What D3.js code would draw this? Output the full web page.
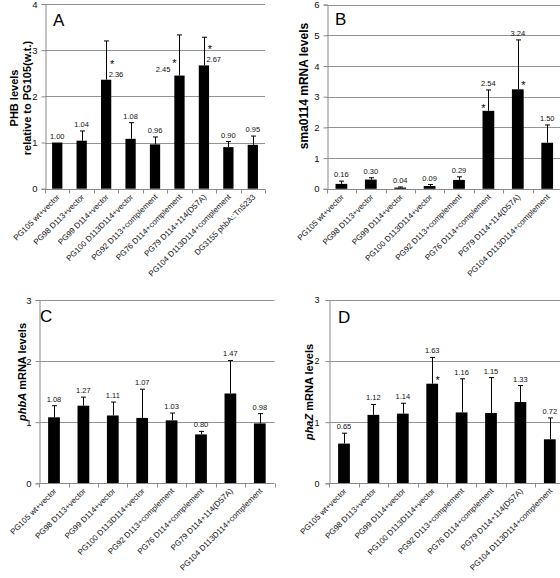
<!DOCTYPE html>
<html><head><meta charset="utf-8">
<script src="https://cdn.jsdelivr.net/npm/d3@7"></script>
<style>body{margin:0;background:#fff}svg{display:block}</style>
</head><body>
<svg id="chart" width="560" height="578"></svg>
<script>
// ---- data ----
const categoriesA = ["PG105 wt+vector","PG98 D113+vector","PG99 D114+vector","PG100 D113D114+vector","PG92 D113+complement","PG76 D114+complement","PG79 D114+114(D57A)","PG104 D113D114+complement","DG3155 phbA::Tn5233"];
const categoriesBCD = ["PG105 wt+vector","PG98 D113+vector","PG99 D114+vector","PG100 D113D114+vector","PG92 D113+complement","PG76 D114+complement","PG79 D114+114(D57A)","PG104 D113D114+complement"];

const valuesA = [1.00,1.04,2.36,1.08,0.96,2.45,2.67,0.90,0.95];
const errorsA = [0.00,0.21,0.84,0.35,0.16,0.88,0.61,0.12,0.19];
const starsA  = [false,false,true,false,false,true,true,false,false];
const ticksA  = [0,1,2,3,4];

const valuesB = [0.16,0.30,0.04,0.09,0.29,2.54,3.24,1.50];
const errorsB = [0.09,0.06,0.02,0.05,0.10,0.68,1.61,0.58];
const starsB  = [false,false,false,false,false,true,true,false];
const ticksB  = [0,1,2,3,4,5,6];

const valuesC = [1.08,1.27,1.11,1.07,1.03,0.80,1.47,0.98];
const errorsC = [0.19,0.14,0.22,0.47,0.12,0.05,0.54,0.16];
const starsC  = [false,false,false,false,false,false,false,false];
const ticksC  = [0,1,2,3];

const valuesD = [0.65,1.12,1.14,1.63,1.16,1.15,1.33,0.72];
const errorsD = [0.17,0.17,0.17,0.43,0.55,0.58,0.27,0.35];
const starsD  = [false,false,false,true,false,false,false,false];
const ticksD  = [0,1,2,3];

// ---- drawing ----
const svg = d3.select("#chart");
const FONT = "'Liberation Sans', Arial, sans-serif";
const fmt = d3.format(".2f");

function drawPanel(p) {
  const g = svg.append("g");
  const yMax = d3.max(p.ticks);
  const y = d3.scaleLinear().domain([0, yMax]).range([p.y0, p.yTop]);
  const x = d3.scaleBand().domain(p.cats).range([p.left, p.left + p.step * p.cats.length])
    .paddingInner(p.pad).paddingOuter(p.pad / 2);
  const right = p.left + p.step * p.cats.length;

  // gridlines
  g.selectAll("line.grid").data(p.ticks.filter(t => t > 0)).join("line")
    .attr("x1", p.left).attr("x2", right)
    .attr("y1", d => Math.round(y(d)) + 0.5).attr("y2", d => Math.round(y(d)) + 0.5)
    .attr("stroke", "#939393").attr("stroke-width", 1);

  // y axis
  const yAxis = d3.axisLeft(y).tickValues(p.ticks).tickSize(4).tickFormat(d3.format("d"));
  const ya = g.append("g").attr("transform", `translate(${Math.round(p.left) + 0.5},0)`).call(yAxis);
  ya.select(".domain").attr("stroke", "#8a8a8a");
  ya.selectAll(".tick line").attr("stroke", "#8a8a8a");
  ya.selectAll(".tick text").attr("font-family", FONT).attr("font-size", p.tickFont)
    .attr("fill", "#111").attr("x", -p.tickGap);

  // bars
  g.selectAll("rect.bar").data(p.values).join("rect")
    .attr("x", (d, i) => x(p.cats[i]))
    .attr("width", x.bandwidth())
    .attr("y", d => y(d))
    .attr("height", d => p.y0 - y(d))
    .attr("fill", "#000");

  // error bars
  p.values.forEach((v, i) => {
    const e = p.errors[i];
    if (e <= 0) return;
    const cx = Math.round(x(p.cats[i]) + x.bandwidth() / 2) + 0.5;
    g.append("line").attr("x1", cx).attr("x2", cx).attr("y1", y(v)).attr("y2", y(v + e))
      .attr("stroke", "#000").attr("stroke-width", 1);
    g.append("line").attr("x1", cx - 2.5).attr("x2", cx + 2.5).attr("y1", y(v + e)).attr("y2", y(v + e))
      .attr("stroke", "#000").attr("stroke-width", 1);
  });

  // x axis
  const xa = g.append("g").attr("transform", `translate(0,${Math.round(p.y0) + 0.5})`);
  xa.append("line").attr("x1", p.left).attr("x2", right).attr("stroke", "#8a8a8a");
  const bounds = d3.range(p.cats.length + 1).map(i => x.step() * i + p.left);
  xa.selectAll("line.t").data(bounds).join("line")
    .attr("x1", d => Math.round(d) + 0.5).attr("x2", d => Math.round(d) + 0.5)
    .attr("y1", 0).attr("y2", 4).attr("stroke", "#8a8a8a");
  xa.selectAll("text").data(p.cats).join("text")
    .attr("transform", d => `translate(${x(d) + x.bandwidth() / 2 + 3},${8}) rotate(-45)`)
    .attr("text-anchor", "end").attr("font-family", FONT).attr("font-size", 8).attr("fill", "#111")
    .text(d => d);

  // value labels & stars
  p.values.forEach((v, i) => {
    const cx = x(p.cats[i]) + x.bandwidth() / 2;
    const capY = y(v + p.errors[i]);
    const topY = y(v);
    const sp = p.special[i] || {};
    let lx = cx, ly = capY - 4, anchor = "middle";
    if (sp.label === "right") { lx = cx + 2.5; ly = topY - 3; anchor = "start"; }
    if (sp.label === "left") { lx = cx - 9; ly = topY - 4; anchor = "end"; }
    g.append("text").attr("x", lx).attr("y", ly).attr("text-anchor", anchor)
      .attr("font-family", FONT).attr("font-size", 7.5).attr("fill", "#111").text(fmt(v));
    if (p.stars[i]) {
      let sx = cx + 6, sy = ly - 9;
      if (sp.star === "rightLabel") { sx = cx + 6; sy = ly - 9; }
      if (sp.star === "leftLabel") { sx = cx - 5; sy = ly - 5; }
      if (sp.star === "barLeft") { sx = cx - 5; sy = topY + 1; }
      if (sp.star === "barRight") { sx = cx + 5.5; sy = topY; }
      g.append("text").attr("x", sx).attr("y", sy).attr("text-anchor", "middle")
        .attr("font-family", FONT).attr("font-size", 11).attr("fill", "#000").text("*");
    }
  });

  // panel letter
  g.append("text").attr("x", p.letterX).attr("y", p.letterY)
    .attr("font-family", FONT).attr("font-size", 17).attr("fill", "#000").text(p.letter);

  // y title
  p.title.forEach(line => {
    const t = g.append("text")
      .attr("transform", `translate(${line.x},${p.titleY}) rotate(-90)`)
      .attr("text-anchor", "middle").attr("dy", "0.35em")
      .attr("font-family", FONT).attr("font-weight", "bold").attr("font-size", p.titleFont).attr("fill", "#000");
    line.parts.forEach(pt => t.append("tspan").attr("font-style", pt.italic ? "italic" : "normal").text(pt.t));
  });
}

drawPanel({
  cats: categoriesA, values: valuesA, errors: errorsA, stars: starsA, ticks: ticksA,
  left: 45, step: 24.45, pad: 0.58, y0: 188.7, yTop: 4,
  tickFont: 9.5, tickGap: 8,
  special: {2: {label: "right", star: "rightLabel"}, 5: {label: "left", star: "leftLabel"}, 6: {label: "right", star: "rightLabel"}},
  letter: "A", letterX: 53, letterY: 26,
  titleY: 98, titleFont: 11,
  title: [{x: 14, parts: [{t: "PHB levels"}]}, {x: 27, parts: [{t: "relative to PG105(w.t.)"}]}]
});

drawPanel({
  cats: categoriesBCD, values: valuesB, errors: errorsB, stars: starsB, ticks: ticksB,
  left: 326.7, step: 29.4, pad: 0.6, y0: 188.8, yTop: 4.6,
  tickFont: 9.5, tickGap: 8,
  special: {5: {star: "barLeft"}, 6: {star: "barRight"}},
  letter: "B", letterX: 335, letterY: 25,
  titleY: 86, titleFont: 12,
  title: [{x: 304, parts: [{t: "sma0114 mRNA levels"}]}]
});

drawPanel({
  cats: categoriesBCD, values: valuesC, errors: errorsC, stars: starsC, ticks: ticksC,
  left: 39.3, step: 29.4, pad: 0.6, y0: 483.3, yTop: 300,
  tickFont: 9.5, tickGap: 8,
  special: {},
  letter: "C", letterX: 40, letterY: 322,
  titleY: 372, titleFont: 11,
  title: [{x: 22, parts: [{t: "phbA", italic: true}, {t: " mRNA levels"}]}]
});

drawPanel({
  cats: categoriesBCD, values: valuesD, errors: errorsD, stars: starsD, ticks: ticksD,
  left: 329.3, step: 29.4, pad: 0.6, y0: 483.3, yTop: 300,
  tickFont: 9, tickGap: 10,
  special: {3: {star: "barRight"}},
  letter: "D", letterX: 338, letterY: 323,
  titleY: 392, titleFont: 11,
  title: [{x: 309, parts: [{t: "phaZ", italic: true}, {t: " mRNA levels"}]}]
});
</script>
</body></html>
